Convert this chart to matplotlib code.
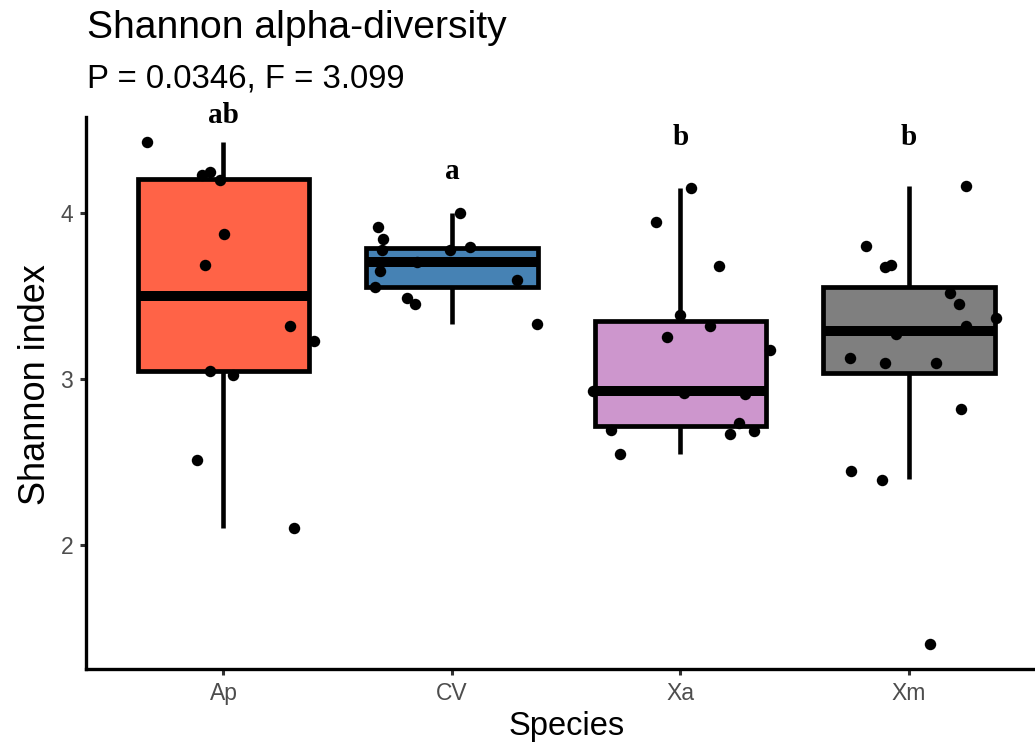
import matplotlib
matplotlib.use('Agg')
import matplotlib.pyplot as plt

# Datos
species = ['Ap', 'CV', 'Xa', 'Xm']
box_colors = ['#FF6347', '#4682B4', '#CD96CD', '#7F7F7F']

# estadisticos de las cajas
q1 = [3.045, 3.55, 2.715, 3.035]
median = [3.50, 3.705, 2.925, 3.29]
q3 = [4.205, 3.79, 3.35, 3.55]
whisker_lo = [2.105, 3.33, 2.55, 2.395]
whisker_hi = [4.426, 3.996, 4.146, 4.16]

# puntos individuales (valor y desplazamiento horizontal del jitter)
ap_vals = [4.426, 4.226, 4.246, 4.196, 3.87, 3.684, 3.32, 3.23, 3.046, 3.026, 2.51, 2.104]
ap_jit = [-0.333, -0.093, -0.057, -0.016, 0.001, -0.079, 0.293, 0.394, -0.057, 0.041, -0.115, 0.31]
cv_vals = [3.996, 3.914, 3.844, 3.776, 3.776, 3.794, 3.704, 3.65, 3.596, 3.554, 3.486, 3.45, 3.33]
cv_jit = [0.036, -0.323, -0.301, -0.306, -0.007, 0.08, -0.153, -0.313, 0.284, -0.335, -0.197, -0.163, 0.371]
xa_vals = [4.146, 3.946, 3.68, 3.386, 3.32, 3.25, 3.174, 2.926, 2.914, 2.906, 2.736, 2.69, 2.67, 2.684, 2.55]
xa_jit = [0.048, -0.106, 0.169, -0.004, 0.131, -0.058, 0.39, -0.383, 0.017, 0.284, 0.255, -0.303, 0.218, 0.32, -0.265]
xm_vals = [4.16, 3.80, 3.67, 3.684, 3.514, 3.45, 3.364, 3.316, 3.27, 3.124, 3.098, 3.098, 2.82, 2.446, 2.39, 1.404]
xm_jit = [0.248, -0.186, -0.103, -0.077, 0.178, 0.218, 0.382, 0.248, -0.058, -0.259, -0.103, 0.12, 0.227, -0.252, -0.119, 0.093]

# letras de significancia
letters = ['ab', 'a', 'b', 'b']
letters_y = [4.538, 4.20, 4.404, 4.404]

plt.rcParams['font.family'] = ['Liberation Sans', 'DejaVu Sans']

fig = plt.figure(figsize=(10.35, 7.51), dpi=100)
ax = fig.add_axes([86.4 / 1035, 1 - 669 / 751, (1046 - 86.4) / 1035, (669 - 117) / 751])

stats = []
for i in range(len(species)):
    stats.append(dict(med=median[i], q1=q1[i], q3=q3[i],
                      whislo=whisker_lo[i], whishi=whisker_hi[i], fliers=[]))

pos = list(range(1, len(species) + 1))
bp = ax.bxp(stats, positions=pos, widths=0.75, patch_artist=True, showcaps=False,
            boxprops=dict(edgecolor='black', linewidth=3.4),
            medianprops=dict(color='black', linewidth=7.2, solid_capstyle='butt'),
            whiskerprops=dict(color='black', linewidth=3.3, solid_capstyle='butt'))
for patch, c in zip(bp['boxes'], box_colors):
    patch.set_facecolor(c)
    patch.set_zorder(2)

all_vals = [ap_vals, cv_vals, xa_vals, xm_vals]
all_jit = [ap_jit, cv_jit, xa_jit, xm_jit]
for i, (vals, jit) in enumerate(zip(all_vals, all_jit)):
    xs = [pos[i] + j for j in jit]
    ax.scatter(xs, vals, s=68, color='black', zorder=5, linewidths=0)

for i, lab in enumerate(letters):
    ax.text(pos[i], letters_y[i], lab, ha='center', va='baseline',
            fontsize=21, fontweight='bold', family='Liberation Serif',
            clip_on=False, zorder=6)

ax.set_xlim(0.4, 4.6)
ax.set_ylim(1.255, 4.575)
ax.set_xticks(pos)
ax.set_xticklabels(species)
ax.set_yticks([2, 3, 4])

for s in ['top', 'right']:
    ax.spines[s].set_visible(False)
for s in ['left', 'bottom']:
    ax.spines[s].set_linewidth(2.4)
ax.tick_params(axis='both', length=4.5, width=2.2, color='#333333',
               labelcolor='#4D4D4D', labelsize=16.5, pad=5)

ax.set_xlabel('Species', fontsize=23.5, labelpad=4)
ax.set_ylabel('Shannon index', fontsize=26)
ax.yaxis.set_label_coords(-0.035, 0.515)

fig.text(87 / 1035, 1 - 38 / 751, 'Shannon alpha-diversity', fontsize=28.2, va='baseline')
fig.text(87 / 1035, 1 - 87 / 751, 'P = 0.0346, F = 3.099', fontsize=23.7, va='baseline')

fig.savefig('out.png', dpi=100)
